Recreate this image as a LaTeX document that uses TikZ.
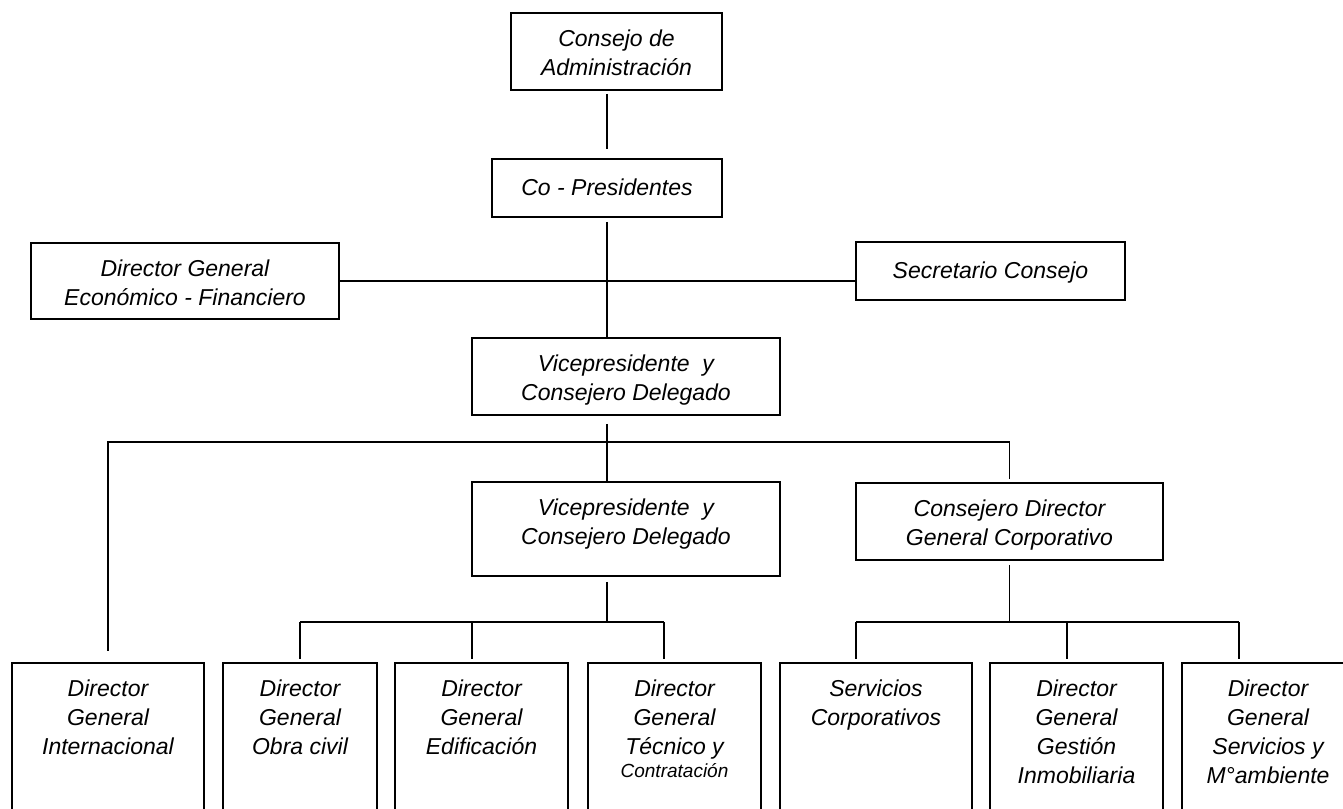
\documentclass[tikz,border=0pt]{standalone}
\usepackage{fontspec}
\setmainfont{Liberation Sans}
\begin{document}
\begin{tikzpicture}[x=1pt,y=-1pt,
  box/.style={draw, line width=1.6pt, rectangle, inner sep=0pt},
  lbl/.style={anchor=north, inner sep=0pt, align=center,
    font=\fontsize{23}{29}\selectfont\itshape, execute at begin node=\strut},
  conn/.style={line width=1.6pt}]
\useasboundingbox (0,0) rectangle (1343,808);
\clip (0,0) rectangle (1343,808);
% boxes
\node[box, minimum width=211pt, minimum height=77pt] (cons) at (616.5,51.5) {};
\node[box, minimum width=230pt, minimum height=58pt] (copres) at (607,188) {};
\node[box, minimum width=308pt, minimum height=76pt] (dgef) at (185,281) {};
\node[box, minimum width=269pt, minimum height=58pt] (secr) at (990.5,271) {};
\node[box, minimum width=308pt, minimum height=77pt] (vp1) at (626,376.5) {};
\node[box, minimum width=308pt, minimum height=94pt] (vp2) at (626,529) {};
\node[box, minimum width=307pt, minimum height=77pt] (cdgc) at (1009.5,521.5) {};
\node[box, minimum width=192pt, minimum height=177pt] (b1) at (108,751.5) {};
\node[box, minimum width=154pt, minimum height=177pt] (b2) at (300,751.5) {};
\node[box, minimum width=173pt, minimum height=177pt] (b3) at (481.5,751.5) {};
\node[box, minimum width=173pt, minimum height=177pt] (b4) at (674.5,751.5) {};
\node[box, minimum width=192pt, minimum height=177pt] (b5) at (876,751.5) {};
\node[box, minimum width=173pt, minimum height=177pt] (b6) at (1076.5,751.5) {};
\node[box, minimum width=172pt, minimum height=177pt] (b7) at (1268,751.5) {};
% texts
\node[lbl] (tcons) at ([yshift=-17pt]cons.north) {Consejo de\\Administración};
\node[lbl] (tcopres) at ([yshift=-17pt]copres.north) {Co - Presidentes};
\node[lbl] (tdgef) at ([yshift=-17pt]dgef.north) {Director General\\Económico - Financiero};
\node[lbl] (tsecr) at ([yshift=-17pt]secr.north) {Secretario Consejo};
\node[lbl] (tvp1) at ([yshift=-17pt]vp1.north) {Vicepresidente~ y\\Consejero Delegado};
\node[lbl] (tvp2) at ([yshift=-17pt]vp2.north) {Vicepresidente~ y\\Consejero Delegado};
\node[lbl] (tcdgc) at ([yshift=-17pt]cdgc.north) {Consejero Director\\General Corporativo};
\node[lbl] (tb1) at ([yshift=-17pt]b1.north) {Director\\General\\Internacional};
\node[lbl] (tb2) at ([yshift=-17pt]b2.north) {Director\\General\\Obra civil};
\node[lbl] (tb3) at ([yshift=-17pt]b3.north) {Director\\General\\Edificación};
\node[lbl] (tb4) at ([yshift=-17pt]b4.north) {Director\\General\\Técnico y\\[-6pt]{\fontsize{19}{19}\selectfont Contratación}};
\node[lbl] (tb5) at ([yshift=-17pt]b5.north) {Servicios\\Corporativos};
\node[lbl] (tb6) at ([yshift=-17pt]b6.north) {Director\\General\\Gestión\\Inmobiliaria};
\node[lbl] (tb7) at ([yshift=-17pt]b7.north) {Director\\General\\Servicios y\\M°ambiente};
% junction coordinates
\coordinate (bus1) at (607,442);
\coordinate (bus2) at (607,622);
\coordinate (d3) at (472,622);
\coordinate (d4) at (664,622);
\coordinate (bus3) at (1009.5,622);
\coordinate (d5) at (856,622);
\coordinate (d6) at (1067,622);
\coordinate (d7) at (1239,622);
% connectors
\draw[conn, shorten <=3pt, shorten >=9pt] (cons.south -| copres.north) -- (copres.north);
\draw[conn, shorten <=4pt] (copres.south) -- (copres.south |- vp1.north);
\draw[conn] (dgef.east) -- (dgef.east -| secr.west);
\draw[conn, shorten <=8pt] (copres.south |- vp1.south) -- (copres.south |- vp2.north);
\draw[conn, shorten <=3pt, shorten >=11pt] (cdgc.north) -- (cdgc.north |- bus1) -- (b1.north |- bus1) -- (b1.north);
\draw[conn, shorten <=5pt] (vp2.south -| bus2) -- (bus2);
\draw[conn] (b2.north |- bus2) -- (d4);
\draw[conn, shorten >=3pt] (b2.north |- bus2) -- (b2.north);
\draw[conn, shorten >=3pt] (d3) -- (d3 |- b3.north);
\draw[conn, shorten >=3pt] (d4) -- (d4 |- b4.north);
\draw[conn, shorten <=4pt] (cdgc.south) -- (bus3);
\draw[conn] (d5) -- (d7);
\draw[conn, shorten >=3pt] (d5) -- (d5 |- b5.north);
\draw[conn, shorten >=3pt] (d6) -- (d6 |- b6.north);
\draw[conn, shorten >=3pt] (d7) -- (d7 |- b7.north);
\end{tikzpicture}
\end{document}
